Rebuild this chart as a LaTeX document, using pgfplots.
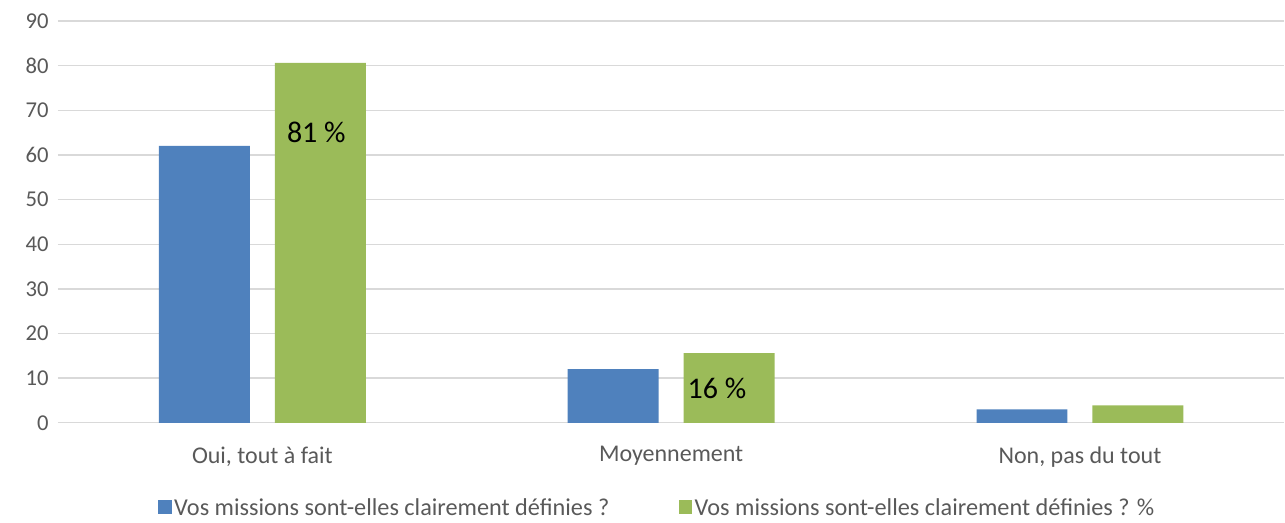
\documentclass[border=0pt]{standalone}
\usepackage{fontspec}
\setmainfont{Carlito}
\usepackage{pgfplots}
\pgfplotsset{compat=1.18}
\definecolor{sblue}{HTML}{4F81BD}
\definecolor{sgreen}{HTML}{9BBB59}
\definecolor{tgray}{HTML}{595959}
\definecolor{ggray}{HTML}{D9D9D9}
\begin{document}
\begin{tikzpicture}
\begin{axis}[
  name=ax,
  scale only axis,
  width=920.25pt, height=301.5pt,
  xmin=-0.5, xmax=2.5, ymin=0, ymax=90,
  ytick={0,10,...,90},
  xtick={0,1,2},
  xticklabels={{Oui, tout à fait},{Moyennement},{Non, pas du tout}},
  axis line style={draw=none},
  tick style={draw=none},
  ymajorgrids,
  grid style={ggray, line width=1pt},
  /pgf/number format/assume math mode=true,
  ticklabel style={text=tgray},
  yticklabel style={font=\fontsize{17}{19}\selectfont, xshift=-3.5pt},
  xticklabel style={font=\fontsize{18}{20}\selectfont, yshift=-10pt},
  ybar,
  bar width=68.25pt,
  legend style={at={(0.489,-0.2114)}, anchor=center, draw=none, fill=none,
    font=\fontsize{18.2}{20}\selectfont, text=tgray, legend columns=2,
    /tikz/every even column/.append style={column sep=50pt}},
  legend image code/.code={\fill[#1] (0pt,-4.5pt) rectangle (10pt,5.5pt);},
  clip=false,
]
\addplot[fill=sblue, draw=none, bar shift=-43.5pt] coordinates {(0,62) (1,12) (2,3)};
\addlegendentry{Vos missions sont-elles clairement définies ?}
\addplot[fill=sgreen, draw=none, bar shift=43.5pt] coordinates {(0,80.6) (1,15.6) (2,3.9)};
\addlegendentry{Vos missions sont-elles clairement définies ? \%}
\node[font=\fontsize{22.5}{25}\selectfont, text=black] at (axis cs:0.132,65) {81 \%};
\node[font=\fontsize{22.5}{25}\selectfont, text=black] at (axis cs:1.112,7.8) {16 \%};
\end{axis}
\path ([xshift=-43.5pt,yshift=-72.75pt]ax.south west) rectangle ([yshift=15.75pt]ax.north east);
\end{tikzpicture}
\end{document}
